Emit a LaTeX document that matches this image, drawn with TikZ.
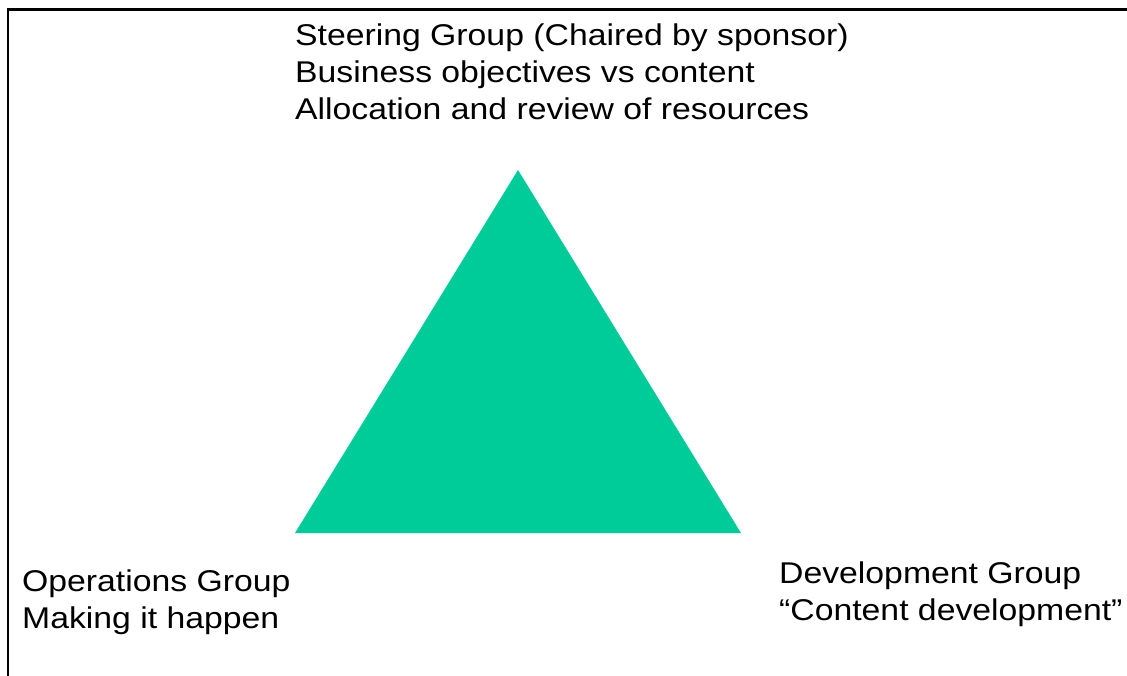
\documentclass[tikz,border=0pt]{standalone}
\usepackage{fontspec}
\setmainfont{Liberation Sans}[FakeStretch=1.125]
\definecolor{groupgreen}{RGB}{0,204,153}

\begin{document}
\begin{tikzpicture}[x=1pt,y=-1pt,font=\fontsize{30}{37}\selectfont,
  grouplabel/.style={anchor=base west,align=left,inner sep=0}]

\useasboundingbox (0,0) rectangle (1127,676);
\clip (0,0) rectangle (1127,676);

% outer frame, runs off the page to the right and bottom
\draw [line width=2.5] (8,700) -- (8,9.5) -- (1140,9.5);

% triangle of the three groups
\coordinate (apex) at (518,170);
\coordinate (right) at (741,533);
\coordinate (left) at (295,533);
\fill [groupgreen] (apex) -- (right) -- (left) -- cycle;

% labels at the corners (placed by the baseline of their last line)
\node (steering) [grouplabel] at (295,120) {Steering Group (Chaired by sponsor)\\Business objectives vs content\\Allocation and review of resources};
\node (operations) [grouplabel] at (22,628) {Operations Group\\Making it happen};
\node (development) [grouplabel] at (779,620) {Development Group\\“Content development”};

\end{tikzpicture}
\end{document}
